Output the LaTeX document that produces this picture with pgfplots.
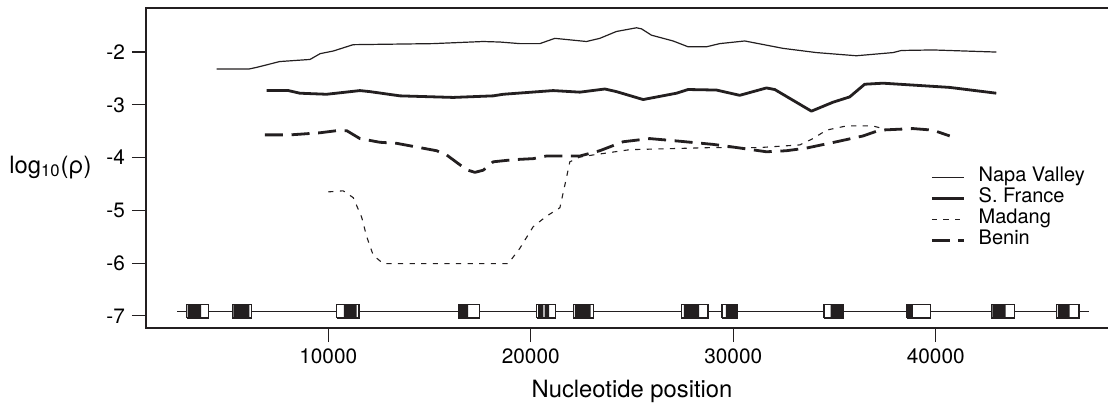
\documentclass[border=0pt]{standalone}
\usepackage{fontspec}
\setmainfont{TeX Gyre Heros}
\usepackage{pgfplots}
\pgfplotsset{compat=1.18}
\definecolor{ink}{RGB}{35,31,32}

% one gene box: outer start, outer end, black start, black end
\newcommand{\gene}[4]{%
  \addplot[forget plot, draw=none, fill=white] coordinates {(#1,-7.04) (#2,-7.04) (#2,-6.79) (#1,-6.79) (#1,-7.04)};
  \addplot[forget plot, draw=none, fill=ink] coordinates {(#3,-7.04) (#4,-7.04) (#4,-6.79) (#3,-6.79) (#3,-7.04)};
  \addplot[forget plot, draw=ink, line width=0.6pt] coordinates {(#1,-7.04) (#2,-7.04) (#2,-6.79) (#1,-6.79) (#1,-7.04)};
}

\begin{document}
\begin{tikzpicture}
\path[use as bounding box] (-73pt,-37.5pt) rectangle (481pt,164pt);
\begin{axis}[
    at={(0,0)}, anchor=south west,
    scale only axis, width=486pt, height=160pt,
    xmin=1000, xmax=49000, ymin=-7.23, ymax=-1.165,
    axis line style={line width=0.7pt, ink},
    tick align=outside, major tick length=7pt,
    tick style={line width=0.6pt, ink},
    xtick pos=left, ytick pos=left,
    scaled x ticks=false, scaled y ticks=false,
    xtick={10000,20000,30000,40000},
    xticklabels={10000,20000,30000,40000},
    ytick={-7,-6,-5,-4,-3,-2},
    yticklabels={-7,-6,-5,-4,-3,-2},
    tick label style={font=\fontsize{10.4}{12}\selectfont},
    xlabel={Nucleotide position},
    ylabel={log\textsubscript{10}(ρ)},
    every axis x label/.style={at={(axis description cs:0.5,0)}, anchor=north,
        yshift=-26pt, inner sep=0pt, font=\fontsize{11.9}{14}\selectfont},
    every axis y label/.style={at={(axis description cs:0,0.484)}, anchor=base east,
        xshift=-27pt, inner sep=0pt, font=\fontsize{11.9}{14}\selectfont},
    legend style={at={(axis description cs:0.8066,0.505)}, anchor=north west,
        draw=none, fill=none, inner sep=0pt, row sep=0pt,
        font=\fontsize{10}{10.5}\selectfont,
        nodes={inner sep=0.75pt, text height=6.8pt, text depth=2.2pt},
        /tikz/every odd column/.append style={column sep=6pt}},
    legend cell align=left,
    legend image code/.code={\draw[#1] (0pt,0pt) -- (16pt,0pt);},
]
% Napa Valley
\addplot[ink, line width=0.6pt, line join=round] coordinates {
 (4490,-2.32) (6100,-2.32) (6470,-2.29) (7600,-2.18) (9100,-2.14) (9600,-2.03)
 (10250,-1.98) (11230,-1.86) (15180,-1.84) (17650,-1.80) (18480,-1.81) (19460,-1.84)
 (20450,-1.84) (21190,-1.74) (22750,-1.80) (23410,-1.74) (24230,-1.61) (25220,-1.54)
 (25470,-1.56) (25960,-1.68) (27030,-1.79) (27770,-1.90) (28680,-1.90) (29330,-1.84)
 (30570,-1.79) (32460,-1.93) (34110,-2.01) (36080,-2.07) (37890,-2.01) (38300,-1.97)
 (39860,-1.96) (42990,-2.00)
};
\addlegendentry{Napa Valley}
% S. France
\addplot[ink, line width=1.4pt, line join=round] coordinates {
 (6960,-2.73) (8030,-2.73) (8600,-2.78) (9920,-2.80) (11565,-2.73) (12060,-2.75)
 (13540,-2.83) (16170,-2.86) (18145,-2.83) (18640,-2.80) (21105,-2.73) (22425,-2.76)
 (23660,-2.70) (24235,-2.75) (25550,-2.90) (27195,-2.78) (27770,-2.71) (29170,-2.72)
 (30320,-2.82) (31640,-2.68) (32050,-2.71) (33860,-3.12) (34930,-2.95) (35750,-2.85)
 (36490,-2.61) (37395,-2.59) (40690,-2.67) (42990,-2.78)
};
\addlegendentry{S. France}
% Madang
\addplot[ink, line width=0.55pt, dash pattern=on 2.6pt off 3.2pt, line join=round] coordinates {
 (10000,-4.65) (10740,-4.63) (11235,-4.76) (11650,-5.13) (11900,-5.50) (12220,-5.85)
 (12715,-6.01) (18885,-6.01) (19460,-5.72) (20120,-5.31) (20780,-5.11) (21440,-4.95)
 (21770,-4.37) (21930,-4.08) (22425,-3.99) (23080,-3.95) (24890,-3.85) (29005,-3.81)
 (31310,-3.81) (33280,-3.76) (33940,-3.64) (34600,-3.48) (35590,-3.40) (36900,-3.40)
 (37560,-3.47)
};
\addlegendentry{Madang}
% Benin
\addplot[ink, line width=1.4pt, dash pattern=on 9pt off 4.3pt, line join=round] coordinates {
 (6875,-3.57) (8110,-3.57) (9590,-3.53) (10415,-3.49) (10910,-3.49) (11565,-3.64)
 (12550,-3.71) (13380,-3.73) (15350,-3.87) (15845,-3.95) (16830,-4.23) (17240,-4.28)
 (17650,-4.24) (18145,-4.08) (19130,-4.04) (20120,-4.02) (20780,-3.97) (22425,-3.97)
 (23410,-3.87) (24560,-3.70) (25880,-3.64) (27360,-3.69) (29005,-3.75) (29990,-3.80)
 (31640,-3.89) (32625,-3.87) (33610,-3.82) (35100,-3.70) (36410,-3.59) (37230,-3.48)
 (38875,-3.45) (39860,-3.48) (40690,-3.59)
};
\addlegendentry{Benin}
% gene track
\addplot[forget plot, ink, line width=0.6pt] coordinates {(2545,-6.915) (47560,-6.915)};
\gene{3011}{4077}{3060}{3717}
\gene{5262}{6219}{5311}{6101}
\gene{10415}{11516}{10775}{11402}
\gene{16417}{17454}{16417}{16911}
\gene{20287}{21239}{20367}{20620}
\addplot[forget plot, draw=none, fill=ink] coordinates {(20680,-7.04) (20910,-7.04) (20910,-6.79) (20680,-6.79) (20680,-7.04)};
\gene{22093}{23080}{22178}{22952}
\gene{27444}{28757}{27558}{28313}
\gene{29449}{30224}{29631}{30224}
\gene{34483}{35422}{34813}{35422}
\gene{38580}{39748}{38630}{38876}
\gene{42745}{43896}{42800}{43451}
\gene{45954}{47071}{46035}{46612}
\end{axis}
\end{tikzpicture}
\end{document}
